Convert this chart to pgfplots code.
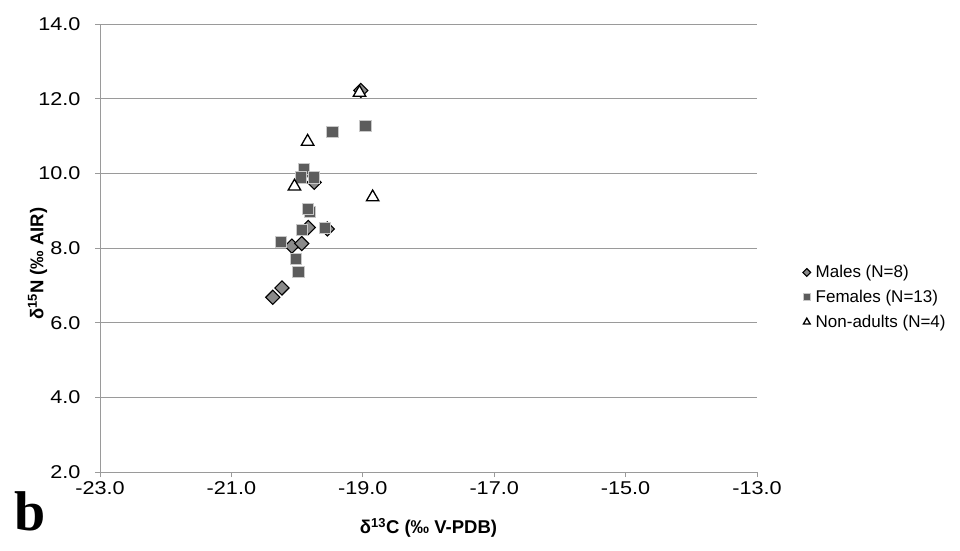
\documentclass[border=0pt]{standalone}
\usepackage{pgfplots}
\pgfplotsset{compat=1.18}
\usepackage{fontspec}
\setmainfont{Liberation Sans}
\newfontfamily\serifb{Liberation Serif}

\definecolor{gridgray}{HTML}{9A9A9A}
\definecolor{femfill}{HTML}{5C5C5C}
\definecolor{femedge}{HTML}{C8C8C8}
\definecolor{malefill}{HTML}{8A8A8A}

\pgfplotsset{smallleg/.style={legend image code/.code={%
    \draw[##1, /tikz/every mark/.append style={scale=#1}] plot coordinates {(0.1cm,0cm)};}}}
\newcommand{\mytick}[1]{\scalebox{1.17}[1]{\fontsize{18.5}{22}\selectfont\pgfmathprintnumber[fixed,fixed zerofill,precision=1,assume math mode=true]{#1}}}

\begin{document}
\begin{tikzpicture}[x=1pt,y=1pt]
\path[use as bounding box] (0,0) rectangle (960,550);
\begin{axis}[
    at={(100pt,78pt)}, anchor=south west,
    scale only axis,
    width=657pt, height=448pt,
    xmin=-23, xmax=-13, ymin=2, ymax=14,
    xtick={-23,-21,...,-13}, ytick={2,4,...,14},
    xticklabel={\mytick{\tick}},
    yticklabel={\mytick{\tick}},
    label style={font=\fontsize{18.5}{22}\selectfont\bfseries},
    axis x line*=bottom, axis y line*=left,
    axis line style={draw=gridgray, line width=0.8pt, -},
    tick style={draw=gridgray, line width=0.8pt},
    tick align=outside, major tick length=5pt,
    ymajorgrids, grid style={draw=gridgray, line width=0.8pt},
    yticklabel style={xshift=-11pt},
    xticklabel style={yshift=-1pt},
    xlabel={δ\textsuperscript{13}C (‰ V-PDB)},
    ylabel={δ\textsuperscript{15}N (‰ AIR)},
    xlabel style={at={(axis description cs:0.5,-0.125)}, anchor=center},
    ylabel style={at={(axis description cs:-0.095,0.465)}, anchor=center},
    legend style={at={(axis description cs:1.065,0.39)}, anchor=west,
        draw=none, fill=none, row sep=7pt,
        nodes={inner xsep=5pt},
        font=\fontsize{17}{20}\selectfont},
    legend cell align=left,
    clip=false,
]
\addplot[only marks, mark=square*, mark size=5pt,
    mark options={rotate=45, fill=malefill, draw=black, line width=1.1pt},
    smallleg=0.55]
coordinates {
(-20.37,6.68) (-20.23,6.93) (-20.08,8.05) (-19.93,8.12)
(-19.83,8.55) (-19.54,8.51) (-19.74,9.76) (-19.03,12.22)
};
\addlegendentry{Males (N=8)}

\addplot[only marks, mark=square*, mark size=5.6pt,
    mark options={fill=femfill, draw=femedge, line width=1pt},
    smallleg=0.6]
coordinates {
(-18.96,11.27) (-19.46,11.11) (-19.89,10.05) (-19.89,10.11)
(-19.94,9.89) (-19.74,9.89) (-19.80,8.96) (-19.84,9.04)
(-19.92,8.48) (-19.57,8.54) (-20.24,8.17) (-20.02,7.70) (-19.98,7.36)
};
\addlegendentry{Females (N=13)}

\addplot[only marks, mark=triangle*, mark size=7.2pt,
    mark options={fill=white, draw=black, line width=1.3pt},
    smallleg=0.55]
coordinates {
(-19.05,12.16) (-19.84,10.85) (-20.04,9.65) (-18.85,9.36)
};
\addlegendentry{Non-adults (N=4)}

\node[font=\serifb\bfseries\fontsize{56}{60}\selectfont, anchor=base]
    at (axis description cs:-0.1065,-0.131) {b};
\end{axis}
\end{tikzpicture}
\end{document}
